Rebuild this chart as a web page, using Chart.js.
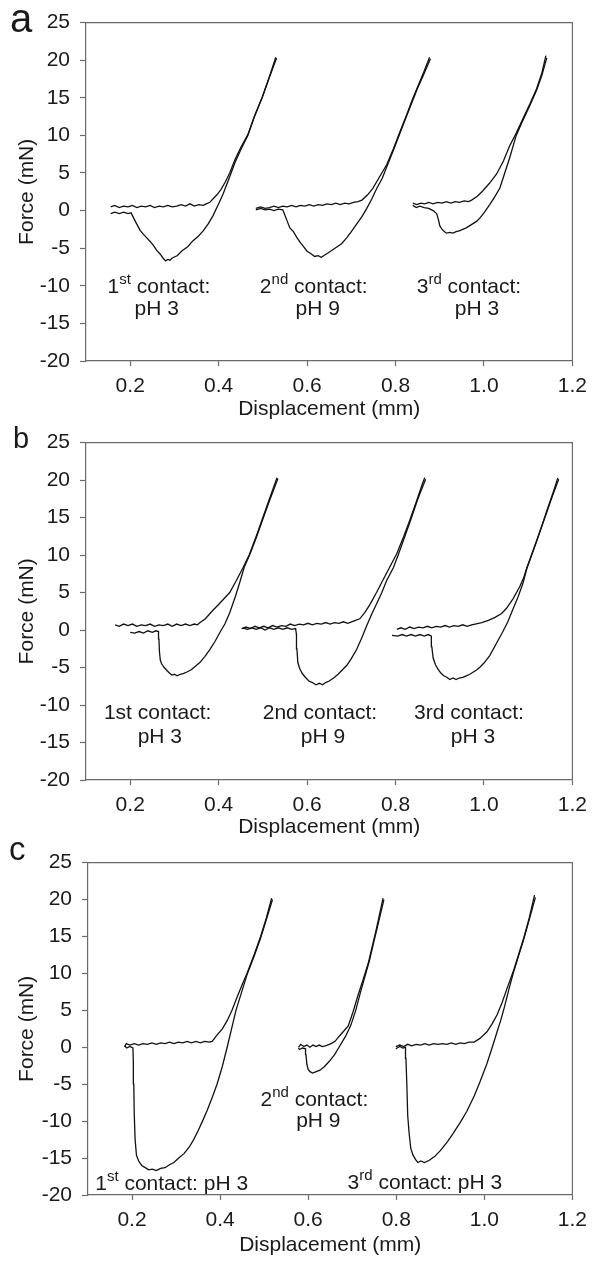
<!DOCTYPE html>
<html>
<head>
<meta charset="utf-8">
<script src="https://cdn.jsdelivr.net/npm/chart.js@4.4.1/dist/chart.umd.min.js"></script>
<style>
  html, body { margin: 0; padding: 0; background: #fff; }
  body { width: 595px; height: 1262px; position: relative; overflow: hidden; }
  canvas { position: absolute; left: 0; }
</style>
</head>
<body>
<canvas id="pa" width="595" height="420" style="top:0"></canvas>
<canvas id="pb" width="595" height="420" style="top:420px"></canvas>
<canvas id="pc" width="595" height="422" style="top:840px"></canvas>
<script>
// === DATA (displacement mm, force mN) ===
const xTicks = [0.2, 0.4, 0.6, 0.8, 1.0, 1.2]
const yTicks = [-20, -15, -10, -5, 0, 5, 10, 15, 20, 25]

// panel a
const aApp1 = [[0.156,0.5],[0.165,0.7],[0.175,0.4],[0.185,0.6],[0.195,0.5],[0.205,0.7],[0.215,0.4],[0.225,0.6],[0.235,0.5],[0.245,0.7],[0.255,0.4],[0.265,0.6],[0.275,0.5],[0.285,0.7],[0.295,0.5],[0.305,0.6],[0.315,0.8],[0.325,0.6],[0.335,0.9],[0.345,0.6],[0.355,0.8],[0.365,0.7],[0.372,0.9],[0.38,1.1],[0.388,1.6],[0.396,2.1],[0.405,2.8],[0.415,3.8],[0.425,5.0],[0.437,6.8],[0.45,8.4],[0.466,10.1],[0.48,12.4],[0.498,15.0],[0.513,17.5],[0.527,20.0],[0.529,20.4]]
const aRet1 = [[0.531,20.3],[0.514,17.6],[0.499,15.1],[0.481,12.5],[0.466,10.0],[0.45,8.1],[0.437,6.4],[0.425,4.5],[0.41,2.2],[0.4,0.9],[0.387,-0.7],[0.376,-1.8],[0.365,-2.7],[0.354,-3.4],[0.342,-4.0],[0.33,-4.8],[0.318,-5.3],[0.306,-6.0],[0.295,-6.3],[0.29,-6.6],[0.285,-6.5],[0.28,-6.7],[0.274,-6.3],[0.268,-5.8],[0.26,-5.3],[0.252,-4.6],[0.245,-4.1],[0.237,-3.6],[0.229,-3.1],[0.222,-2.6],[0.214,-1.7],[0.207,-0.9],[0.202,-0.3],[0.195,-0.4],[0.185,-0.2],[0.175,-0.4],[0.165,-0.2],[0.156,-0.4]]
const aApp2 = [[0.484,0.3],[0.495,0.5],[0.505,0.3],[0.515,0.4],[0.525,0.6],[0.535,0.4],[0.545,0.6],[0.555,0.5],[0.565,0.7],[0.575,0.5],[0.585,0.7],[0.595,0.6],[0.605,0.8],[0.615,0.6],[0.625,0.8],[0.635,0.7],[0.645,0.9],[0.655,0.8],[0.665,1.0],[0.675,0.8],[0.685,1.0],[0.695,0.9],[0.705,1.1],[0.715,1.2],[0.724,1.4],[0.737,2.1],[0.749,3.0],[0.762,4.3],[0.78,6.1],[0.795,8.2],[0.81,10.5],[0.825,12.7],[0.839,14.9],[0.851,16.6],[0.863,18.3],[0.877,20.4]]
const aRet2 = [[0.879,20.2],[0.863,18.0],[0.85,16.3],[0.838,14.5],[0.824,12.4],[0.81,10.3],[0.795,8.0],[0.78,5.8],[0.77,4.3],[0.758,3.0],[0.746,1.5],[0.735,0.3],[0.724,-0.8],[0.712,-1.8],[0.7,-2.8],[0.69,-3.6],[0.678,-4.4],[0.668,-4.8],[0.658,-5.2],[0.648,-5.6],[0.64,-5.9],[0.632,-6.2],[0.625,-6.0],[0.617,-6.1],[0.608,-5.7],[0.6,-5.4],[0.592,-4.8],[0.584,-4.2],[0.577,-3.6],[0.569,-2.8],[0.561,-2.3],[0.555,-1.4],[0.549,-0.5],[0.545,0.1],[0.535,0.2],[0.525,0.0],[0.515,0.2],[0.505,0.1],[0.495,0.3],[0.484,0.1]]
const aApp3 = [[0.839,1.0],[0.848,0.8],[0.857,1.0],[0.866,0.9],[0.875,1.1],[0.885,0.9],[0.895,1.1],[0.905,1.0],[0.915,1.2],[0.925,1.0],[0.935,1.2],[0.945,1.1],[0.955,1.3],[0.965,1.2],[0.972,1.4],[0.985,1.9],[0.997,2.6],[1.012,3.6],[1.029,4.9],[1.044,6.6],[1.058,8.6],[1.073,10.3],[1.088,12.2],[1.104,14.2],[1.119,16.2],[1.131,18.3],[1.14,20.6]]
const aRet3 = [[1.142,20.3],[1.131,18.0],[1.119,16.0],[1.104,14.0],[1.088,12.0],[1.073,10.0],[1.058,7.0],[1.047,5.0],[1.036,3.0],[1.024,1.8],[1.013,0.8],[1.0,-0.3],[0.992,-0.9],[0.984,-1.4],[0.976,-1.7],[0.968,-2.0],[0.96,-2.3],[0.952,-2.5],[0.944,-2.7],[0.937,-2.8],[0.93,-3.0],[0.923,-2.9],[0.915,-3.0],[0.909,-2.7],[0.904,-2.4],[0.9,-2.0],[0.897,-1.2],[0.893,-0.4],[0.885,0.0],[0.875,0.3],[0.865,0.4],[0.855,0.6],[0.847,0.4],[0.839,0.7]]

// panel b
const bApp1 = [[0.166,0.7],[0.175,0.5],[0.185,0.8],[0.195,0.6],[0.205,0.8],[0.215,0.5],[0.225,0.7],[0.235,0.6],[0.245,0.8],[0.255,0.5],[0.265,0.7],[0.275,0.6],[0.285,0.8],[0.295,0.5],[0.305,0.8],[0.315,0.6],[0.325,0.8],[0.335,0.6],[0.345,0.8],[0.352,0.7],[0.358,1.0],[0.37,1.5],[0.385,2.5],[0.403,3.6],[0.425,5.0],[0.44,6.6],[0.455,8.3],[0.469,10.0],[0.485,12.5],[0.5,15.0],[0.515,17.5],[0.532,20.3]]
const bRet1 = [[0.534,20.2],[0.516,17.4],[0.5,14.8],[0.485,12.3],[0.47,10.0],[0.458,8.4],[0.448,6.4],[0.438,4.5],[0.425,2.3],[0.414,0.8],[0.403,-0.3],[0.392,-1.5],[0.38,-2.6],[0.369,-3.5],[0.358,-4.3],[0.348,-4.8],[0.338,-5.3],[0.328,-5.6],[0.32,-5.8],[0.313,-5.9],[0.306,-6.1],[0.3,-5.9],[0.294,-6.0],[0.288,-5.7],[0.283,-5.4],[0.277,-5.0],[0.271,-4.5],[0.268,-4.0],[0.266,-2.8],[0.265,-1.2],[0.264,-0.2],[0.258,-0.1],[0.25,-0.3],[0.24,-0.1],[0.23,-0.4],[0.22,-0.2],[0.21,-0.4],[0.2,-0.3]]
const bApp2 = [[0.452,0.2],[0.462,0.4],[0.472,0.2],[0.482,0.5],[0.492,0.3],[0.502,0.5],[0.512,0.3],[0.522,0.6],[0.532,0.4],[0.542,0.6],[0.552,0.5],[0.562,0.8],[0.572,0.6],[0.582,0.8],[0.592,0.7],[0.602,0.9],[0.612,0.7],[0.622,0.9],[0.632,0.8],[0.642,1.0],[0.652,0.8],[0.662,1.0],[0.672,0.9],[0.682,1.1],[0.692,0.9],[0.705,1.2],[0.719,1.5],[0.73,2.3],[0.742,3.4],[0.757,5.0],[0.771,6.6],[0.787,8.4],[0.803,10.2],[0.818,12.4],[0.832,14.6],[0.847,17.1],[0.862,19.7],[0.866,20.3]]
const bRet2 = [[0.868,20.1],[0.85,17.4],[0.835,14.8],[0.82,12.3],[0.806,10.0],[0.795,8.3],[0.78,6.6],[0.769,5.0],[0.758,3.6],[0.746,2.1],[0.735,0.6],[0.724,-1.0],[0.712,-2.6],[0.7,-3.8],[0.69,-4.7],[0.68,-5.3],[0.67,-5.9],[0.66,-6.4],[0.65,-6.8],[0.642,-7.0],[0.635,-7.3],[0.628,-7.1],[0.62,-7.3],[0.612,-7.0],[0.604,-6.8],[0.596,-6.3],[0.589,-5.8],[0.583,-5.1],[0.579,-4.3],[0.577,-2.5],[0.576,-0.6],[0.574,0.2],[0.565,0.1],[0.555,0.3],[0.545,0.1],[0.535,0.3],[0.525,0.1],[0.515,0.3],[0.505,0.0],[0.495,0.3],[0.485,0.1],[0.475,0.3],[0.465,0.1],[0.455,0.3]]
const bApp3 = [[0.803,0.1],[0.812,0.3],[0.822,0.1],[0.832,0.4],[0.842,0.2],[0.852,0.4],[0.862,0.3],[0.872,0.5],[0.882,0.3],[0.892,0.5],[0.902,0.4],[0.912,0.6],[0.922,0.4],[0.932,0.6],[0.942,0.5],[0.952,0.7],[0.962,0.5],[0.972,0.7],[0.98,0.8],[0.995,1.0],[1.01,1.3],[1.025,1.7],[1.04,2.2],[1.051,2.9],[1.066,4.2],[1.081,5.8],[1.09,7.0],[1.097,8.3],[1.108,10.1],[1.119,11.9],[1.131,13.9],[1.142,15.9],[1.155,18.1],[1.167,20.3]]
const bRet3 = [[1.169,20.1],[1.155,17.9],[1.142,15.7],[1.13,13.7],[1.119,11.8],[1.108,10.0],[1.097,8.2],[1.088,6.2],[1.077,4.4],[1.065,2.7],[1.054,1.1],[1.042,-0.3],[1.028,-1.8],[1.013,-3.4],[1.0,-4.4],[0.992,-4.9],[0.984,-5.3],[0.976,-5.6],[0.968,-5.9],[0.96,-6.1],[0.952,-6.3],[0.944,-6.4],[0.937,-6.6],[0.93,-6.4],[0.923,-6.6],[0.916,-6.3],[0.909,-6.1],[0.902,-5.7],[0.896,-5.2],[0.89,-4.6],[0.885,-3.7],[0.882,-2.2],[0.881,-0.8],[0.874,-0.6],[0.865,-0.8],[0.855,-0.6],[0.845,-0.8],[0.835,-0.6],[0.825,-0.8],[0.815,-0.6],[0.805,-0.8],[0.792,-0.7]]

// panel c
const cApp1 = [[0.183,0.1],[0.187,0.5],[0.195,0.3],[0.205,0.5],[0.215,0.3],[0.225,0.5],[0.235,0.4],[0.245,0.6],[0.255,0.4],[0.265,0.6],[0.275,0.5],[0.285,0.7],[0.295,0.5],[0.305,0.7],[0.315,0.6],[0.325,0.8],[0.335,0.6],[0.345,0.8],[0.355,0.6],[0.365,0.8],[0.375,0.7],[0.382,0.8],[0.391,1.5],[0.405,2.5],[0.416,3.6],[0.427,5.0],[0.44,7.0],[0.451,8.6],[0.461,10.0],[0.477,12.5],[0.492,15.0],[0.505,17.5],[0.517,20.2]]
const cRet1 = [[0.519,20.0],[0.505,17.3],[0.492,14.8],[0.477,12.3],[0.461,9.8],[0.448,7.3],[0.436,5.0],[0.426,2.5],[0.416,0.0],[0.405,-2.6],[0.393,-5.0],[0.382,-6.8],[0.371,-8.5],[0.36,-10.0],[0.35,-11.3],[0.34,-12.5],[0.33,-13.5],[0.318,-14.4],[0.306,-15.0],[0.295,-15.6],[0.285,-15.9],[0.275,-16.3],[0.265,-16.4],[0.255,-16.7],[0.246,-16.5],[0.238,-16.6],[0.23,-16.3],[0.222,-16.0],[0.215,-15.4],[0.21,-14.6],[0.207,-12.5],[0.205,-9.0],[0.204,-5.0],[0.203,-2.0],[0.202,-0.1],[0.195,0.1],[0.188,-0.1],[0.183,0.2]]
const cApp2 = [[0.578,0.0],[0.583,0.4],[0.59,0.1],[0.597,0.3],[0.604,0.0],[0.611,0.3],[0.618,0.1],[0.625,0.3],[0.632,0.1],[0.639,0.2],[0.648,0.4],[0.655,0.6],[0.661,0.8],[0.672,1.6],[0.681,2.2],[0.691,2.9],[0.702,4.8],[0.713,7.0],[0.725,9.2],[0.736,11.3],[0.746,13.8],[0.754,15.8],[0.762,18.0],[0.77,20.2]]
const cRet2 = [[0.772,20.0],[0.764,18.0],[0.756,16.0],[0.748,14.0],[0.739,11.7],[0.729,9.6],[0.719,7.5],[0.708,5.0],[0.697,3.0],[0.685,1.5],[0.672,0.2],[0.66,-1.0],[0.648,-1.9],[0.637,-2.6],[0.627,-3.1],[0.618,-3.3],[0.61,-3.5],[0.604,-3.3],[0.6,-3.0],[0.597,-2.3],[0.595,-1.0],[0.594,-0.2],[0.587,-0.1],[0.58,-0.3],[0.578,-0.1]]
const cApp3 = [[0.799,0.1],[0.808,0.3],[0.817,0.1],[0.826,0.4],[0.835,0.2],[0.845,0.4],[0.855,0.3],[0.865,0.5],[0.875,0.3],[0.885,0.5],[0.895,0.4],[0.905,0.5],[0.915,0.4],[0.925,0.6],[0.935,0.4],[0.945,0.6],[0.955,0.5],[0.965,0.7],[0.977,0.7],[0.99,1.2],[1.006,2.1],[1.018,3.2],[1.029,4.4],[1.04,6.0],[1.05,7.7],[1.067,10.5],[1.078,12.6],[1.09,14.9],[1.102,17.5],[1.114,20.6]]
const cRet3 = [[1.116,20.3],[1.102,17.3],[1.09,14.7],[1.078,12.4],[1.067,10.3],[1.056,7.9],[1.045,5.3],[1.037,3.6],[1.029,2.1],[1.018,0.0],[1.006,-2.2],[0.99,-4.7],[0.977,-6.6],[0.96,-8.7],[0.945,-10.2],[0.93,-11.6],[0.916,-12.8],[0.9,-14.0],[0.887,-14.8],[0.875,-15.3],[0.864,-15.6],[0.856,-15.4],[0.849,-15.6],[0.844,-15.2],[0.838,-14.6],[0.833,-13.7],[0.829,-11.5],[0.826,-9.2],[0.824,-5.0],[0.822,-1.5],[0.821,0.0],[0.815,-0.1],[0.808,0.1],[0.799,-0.2]]

// text notes, {..} = superscript, anchored in data units
const aNotes = [
  {x: 0.265, y: -10.0, t: '1{st} contact:'}, {x: 0.26, y: -12.9, t: 'pH 3'},
  {x: 0.615, y: -10.0, t: '2{nd} contact:'}, {x: 0.624, y: -12.9, t: 'pH 9'},
  {x: 0.966, y: -10.0, t: '3{rd} contact:'}, {x: 0.984, y: -12.9, t: 'pH 3'}
]
const bNotes = [
  {x: 0.262, y: -10.9, t: '1st contact:'}, {x: 0.267, y: -14.0, t: 'pH 3'},
  {x: 0.629, y: -10.9, t: '2nd contact:'}, {x: 0.636, y: -14.0, t: 'pH 9'},
  {x: 0.966, y: -10.9, t: '3rd contact:'}, {x: 0.975, y: -14.0, t: 'pH 3'}
]
const cNotes = [
  {x: 0.29, y: -18.3, t: '1{st} contact: pH 3'},
  {x: 0.614, y: -6.9, t: '2{nd} contact:'}, {x: 0.623, y: -9.8, t: 'pH 9'},
  {x: 0.865, y: -18.1, t: '3{rd} contact: pH 3'}
]

// === STYLE ===
const FONT = '"Liberation Sans", Arial, sans-serif'
const INK = '#1a1a1a'
const AXIS = '#6a6a6a'
const LINE = '#111'
const TXT = 21
const NOTE_SIZE = 21, SUP_SIZE = 15, SUP_RISE = 9

function drawNote(ctx, cx, cy, text) {
  const parts = text.split(/(\{[^}]*\})/).filter(Boolean)
    .map(s => s[0] === '{' ? {t: s.slice(1, -1), sup: true} : {t: s, sup: false})
  const big = `${NOTE_SIZE}px ${FONT}`, small = `${SUP_SIZE}px ${FONT}`
  let w = 0
  parts.forEach(p => { ctx.font = p.sup ? small : big; p.w = ctx.measureText(p.t).width; w += p.w })
  let x = cx - w / 2
  const base = cy + NOTE_SIZE * 0.36
  ctx.textAlign = 'left'
  ctx.textBaseline = 'alphabetic'
  parts.forEach(p => {
    ctx.font = p.sup ? small : big
    ctx.fillText(p.t, x, p.sup ? base - SUP_RISE : base)
    x += p.w
  })
}

// frame on top/right, panel letter and notes
const decor = {
  id: 'decor',
  afterDraw(chart, args, opts) {
    const {ctx, chartArea: a, scales: {x, y}} = chart
    ctx.save()
    ctx.strokeStyle = AXIS
    ctx.lineWidth = 1.2
    ctx.beginPath()
    ctx.moveTo(a.left, a.top)
    ctx.lineTo(a.right, a.top)
    ctx.lineTo(a.right, a.bottom)
    ctx.stroke()
    ctx.fillStyle = INK
    ctx.font = `${opts.letterSize}px ${FONT}`
    ctx.textAlign = 'left'
    ctx.textBaseline = 'alphabetic'
    ctx.fillText(opts.letter, opts.letterX, opts.letterY)
    opts.notes.forEach(n => drawNote(ctx, x.getPixelForValue(n.x), y.getPixelForValue(n.y), n.t))
    ctx.restore()
  }
}

function curve(pts) {
  return {
    data: pts.map(p => ({x: p[0], y: p[1]})),
    borderColor: LINE, borderWidth: 1.3, pointRadius: 0, tension: 0, fill: false
  }
}

function makePanel(id, curves, notes, geo) {
  return new Chart(document.getElementById(id), {
    type: 'line',
    data: {datasets: curves.map(curve)},
    options: {
      responsive: false,
      animation: false,
      events: [],
      layout: {padding: {top: geo.top, right: geo.right, left: 0, bottom: 0}},
      plugins: {
        legend: {display: false},
        tooltip: {enabled: false},
        decor: {letter: geo.letter, letterSize: geo.letterSize, letterX: geo.letterX, letterY: geo.letterY, notes: notes}
      },
      scales: {
        x: {
          type: 'linear', min: 0.1, max: 1.2,
          afterBuildTicks: s => { s.ticks = xTicks.map(v => ({value: v})) },
          afterFit: s => { s.height = geo.xh },
          grid: {drawOnChartArea: false, drawTicks: true, tickLength: 5, color: AXIS, tickWidth: 1.2},
          border: {color: AXIS, width: 1.2},
          ticks: {color: INK, font: {size: TXT, family: FONT}, padding: 8, maxRotation: 0,
                  callback: v => v.toFixed(1)},
          title: {display: true, text: 'Displacement (mm)', color: INK,
                  font: {size: TXT, family: FONT, lineHeight: 1}, padding: {top: 0, bottom: geo.titlePad}}
        },
        y: {
          type: 'linear', min: -20, max: 25,
          afterBuildTicks: s => { s.ticks = yTicks.map(v => ({value: v})) },
          afterFit: s => { s.width = geo.left },
          grid: {drawOnChartArea: false, drawTicks: true, tickLength: 6, color: AXIS, tickWidth: 1.2},
          border: {color: AXIS, width: 1.2},
          ticks: {color: INK, font: {size: TXT, family: FONT}, padding: 10, callback: v => String(v)},
          title: {display: true, text: 'Force (mN)', color: INK,
                  font: {size: TXT, family: FONT, lineHeight: 1}, padding: {top: 17, bottom: 0}}
        }
      }
    },
    plugins: [decor]
  })
}

makePanel('pa', [aApp1, aRet1, aApp2, aRet2, aApp3, aRet3], aNotes,
  {top: 20, right: 22, left: 86, xh: 59, titlePad: 0, letter: 'a', letterSize: 40, letterX: 10, letterY: 32})
makePanel('pb', [bApp1, bRet1, bApp2, bRet2, bApp3, bRet3], bNotes,
  {top: 18, right: 22, left: 86, xh: 60, titlePad: 2, letter: 'b', letterSize: 29, letterX: 13, letterY: 28})
makePanel('pc', [cApp1, cRet1, cApp2, cRet2, cApp3, cRet3], cNotes,
  {top: 14, right: 19, left: 88, xh: 67, titlePad: 6, letter: 'c', letterSize: 33, letterX: 9, letterY: 20})
</script>
</body>
</html>
